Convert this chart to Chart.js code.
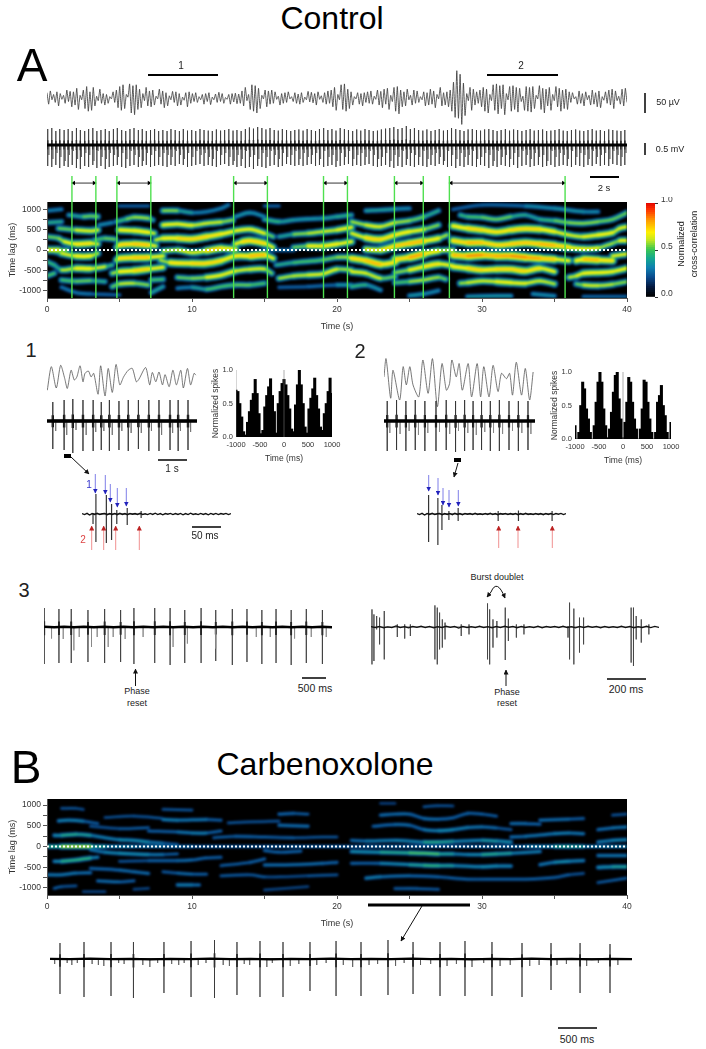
<!DOCTYPE html>
<html>
<head>
<meta charset="utf-8">
<title>Control / Carbenoxolone</title>
<script src="https://cdn.jsdelivr.net/npm/chart.js@4"></script>
<style>
  html, body { margin: 0; background: #fff; }
  #page { position: relative; width: 706px; height: 1049px; overflow: hidden; font-family: "Liberation Sans", Arial, sans-serif; color: #222; }
  #page canvas { position: absolute; display: block; }
  .heat { position: absolute; background: #000; overflow: hidden; }
  .heat canvas { filter: blur(0.9px); }
  .t { position: absolute; transform: translate(-50%, -50%); white-space: nowrap; }
  svg { position: absolute; left: 0; top: 0; pointer-events: none; }
</style>
</head>
<body>
<div id="page"></div>
<script>
// ---- data: everything ----
const lagTicks = [-1000, -750, -500, -250, 0, 250, 500, 750, 1000];
const timeTicks = [0, 5, 10, 15, 20, 25, 30, 35, 40];
const histTicks = [-1000, -500, 0, 500, 1000];
const episodeStarts = [1.72, 4.82, 12.87, 19.07, 23.96, 27.75];
const episodeEnds = [3.37, 7.16, 15.2, 20.72, 25.95, 35.73];

// colour scale of the cross-correlation
const colorStops = [[0,'#000000'],[0.1,'#041a40'],[0.2,'#0a4a8c'],[0.3,'#0f7fb0'],[0.4,'#14a890'],[0.5,'#3cc850'],[0.6,'#c8e81e'],[0.68,'#fff000'],[0.8,'#ffa000'],[0.92,'#ff3000'],[1,'#e00000']];

// correlation ridges: each one is a list of [time s, lag ms, strength]
const ctlUpperLeft = [
  [[0,328,.45],[0.8,287,.5],[1.2,205,.55],[2,147,.7],[3,164,.7],[3.5,147,.5]],
  [[3.3,246,.4],[4,287,.5],[4.7,262,.45]],
  [[4.8,66,.45],[5,123,.65],[6,147,.8],[7,123,.7],[7.5,98,.5]],
  [[7.5,246,.5],[8,287,.65],[9,287,.7],[10,270,.75],[11,328,.7],[12,393,.7],[12.8,450,.6]],
  [[13,147,.55],[13.5,205,.7],[14,229,.75],[15,164,.7],[15.6,66,.5]],
  [[17,66,.35],[18,98,.6],[19,98,.7],[20,147,.65],[21,205,.6]],
  [[0.8,532,.4],[2,491,.55],[3,467,.65],[3.5,491,.55]],
  [[5,491,.6],[6,475,.7],[7,434,.65],[7.4,410,.5]],
  [[8,614,.55],[9,639,.7],[10,606,.55],[11,655,.6],[12,688,.55],[12.8,737,.45]],
  [[13,475,.55],[14,508,.7],[15,410,.55],[15.6,328,.4]],
  [[16,328,.3],[17,385,.45],[18,410,.55],[19,450,.55],[20,491,.6],[21,557,.65]],
  [[1.5,860,.35],[2.5,819,.4],[3,835,.55],[3.5,819,.4]],
  [[3.6,614,.3],[4.5,672,.35]],
  [[4.8,696,.35],[5.5,762,.5],[6,803,.5],[7,778,.55],[7.3,737,.3]],
  [[8,966,.55],[9,966,.45],[10,917,.3],[11,942,.3],[12,1024,.3],[12.5,1106,.3]],
  [[13,819,.35],[14,917,.35],[15,819,.3]],
  [[15,753,.45],[16,696,.4],[17,737,.35],[18,762,.35],[19,778,.35],[20,819,.4],[21,860,.4]],
  [[0,672,.4],[1,696,.4]],
  [[0,966,.3],[1,999,.3]],
  [[15,1081,.2],[16,1081,.2]],
  [[5,1081,.2],[7,1081,.2]],
  [[0,0,.7],[0.8,0,.6],[1.4,0,.4]],
  [[8,-25,.5],[9,0,.6],[10,-66,.6],[11,-20,.6],[12,41,.85],[13,16,.5]],
  [[15,0,.25],[17,0,.3]]
];
const ctlLowerLeft = [
  [[0.5,-41,.4],[1,-82,.5],[2,-147,.7],[3,-147,.65],[3.5,-82,.45]],
  [[4.8,-246,.5],[5,-205,.7],[6,-188,.75],[7,-180,.75],[8,-147,.5]],
  [[7.8,-246,.4],[8.5,-311,.65],[10,-328,.75],[11,-328,.7],[12,-262,.75],[13,-147,.6],[14,-147,.8],[15,-123,.75],[15.6,-205,.5]],
  [[15.8,-369,.35],[17,-311,.45],[19,-246,.45],[20,-180,.5],[21,-180,.55]],
  [[0,-287,.45],[0.5,-369,.4],[1,-491,.4],[2,-450,.7],[3,-459,.65],[4,-410,.5],[4.5,-369,.35]],
  [[4.5,-573,.45],[5,-532,.6],[6,-508,.75],[7,-467,.7],[8,-426,.55]],
  [[9,-672,.5],[10,-696,.45],[11,-672,.55],[12,-622,.7],[13,-516,.55],[14,-475,.6],[15,-467,.6],[15.5,-573,.4]],
  [[16,-696,.5],[17,-639,.55],[18,-614,.55],[19,-590,.65],[20,-475,.55],[21,-491,.5]],
  [[0,-639,.5],[0.5,-573,.4]],
  [[1,-737,.4],[2,-770,.5],[3,-753,.45],[4,-778,.35]],
  [[4.5,-901,.4],[5,-835,.55],[6,-819,.55],[7,-860,.45]],
  [[7.2,-737,.5],[8,-721,.4]],
  [[9,-942,.3],[10,-917,.3],[11,-966,.45],[12,-901,.45],[13,-860,.45],[14,-860,.5],[15,-819,.4]],
  [[16,-917,.25],[18,-901,.2],[20,-860,.3],[21,-860,.4]],
  [[1,-917,.25],[2,-1048,.3],[3,-1081,.25],[5,-1106,.2]],
  [[7.2,-1048,.45],[8,-901,.3]]
];
const ctlUpperRight = [
  [[22,16,.6],[23,0,.7],[24,98,.7],[25,164,.8],[26,221,.75],[27,287,.6],[27.6,369,.45]],
  [[21,410,.5],[22,303,.7],[23,262,.75],[24,369,.65],[25,450,.7],[26,508,.55],[27,614,.45]],
  [[21,696,.45],[22,614,.6],[23,573,.6],[24,672,.55],[25,721,.5],[26,819,.45],[27,966,.35]],
  [[22,966,.35],[23,983,.4],[24,1007,.35],[25,1024,.3]],
  [[28,229,.65],[29,180,.8],[30,180,.75],[31,123,.7],[32,147,.75],[33,180,.75],[34,147,.75],[35,115,.8],[36,66,.65],[37,33,.65],[38,49,.6],[39,164,.45],[39.5,229,.55],[40,229,.7]],
  [[28,590,.6],[29,532,.75],[30,491,.7],[31,442,.7],[32,491,.7],[33,524,.75],[34,508,.7],[35,450,.65],[36,369,.55],[37,328,.6],[38,369,.65],[39,426,.65],[39.5,532,.5],[40,573,.7]],
  [[28.5,860,.4],[29,819,.45],[30,803,.45],[31,753,.5],[32,819,.45],[33,860,.35],[34,753,.4],[35,721,.45],[36,672,.5],[37,655,.5],[38,696,.5],[39,753,.45],[40,917,.5]],
  [[28,999,.25],[30,1106,.2],[33,1081,.3],[35,1024,.35],[37,942,.35],[38,942,.3]]
];
const ctlLowerRight = [
  [[21,-205,.65],[22,-262,.8],[23,-352,.75],[24,-303,.65],[24.3,-246,.5]],
  [[24,-229,.6],[25,-180,.85],[26,-98,.75],[27,-25,.6],[28,0,.5]],
  [[28,-123,.7],[29,-147,.85],[30,-123,.8],[31,-147,.75],[32,-147,.85],[33,-180,.8],[34,-205,.8],[35,-229,.7],[36,-262,.55]],
  [[36.5,-262,.6],[37,-229,.75],[38,-246,.8],[39,-262,.6]],
  [[39,-147,.5],[40,-98,.7]],
  [[21,-532,.55],[22,-573,.65],[23,-696,.5],[24,-655,.45]],
  [[24,-557,.4],[25,-491,.6],[26,-410,.7],[27,-344,.7],[28,-385,.55]],
  [[28,-410,.6],[29,-450,.75],[30,-491,.7],[31,-475,.7],[32,-475,.75],[33,-516,.7],[34,-450,.7],[35,-532,.55]],
  [[36,-672,.5],[36.5,-639,.6],[37,-573,.6],[38,-557,.7],[39,-532,.6],[40,-450,.65]],
  [[21,-901,.45],[22,-860,.4],[23,-983,.3]],
  [[24,-803,.35],[25,-778,.55],[26,-737,.5],[27,-672,.55],[27.5,-721,.4]],
  [[28.5,-819,.45],[29,-803,.6],[30,-762,.55],[31,-778,.6],[32,-803,.7],[33,-819,.55],[34,-762,.6],[35,-835,.5]],
  [[36.5,-835,.4],[37,-860,.55],[38,-876,.6],[39,-844,.5],[40,-778,.5]],
  [[25,-1122,.35],[26,-1081,.35],[27,-999,.3]],
  [[29,-1147,.3],[31,-1130,.4],[32,-1130,.3]],
  [[33.5,-1081,.35],[35,-1130,.3]],
  [[37,-1147,.25],[40,-1147,.25]]
];
const cbxLeft = [
  [[0,0,.5],[1,0,.55],[2,0,.8],[3,0,.55],[4,0,.45],[6,0,.35],[8,0,.35],[10,0,.3],[12,0,.25],[15,0,.25],[17,0,.3],[20,0,.28]],
  [[0.5,268,.4],[1,268,.45],[2,293,.55],[3,268,.4],[4,211,.35],[5,163,.4],[6,146,.45],[7,106,.4],[8,81,.3],[9,49,.2]],
  [[0.8,618,.35],[1.5,634,.42],[2.5,610,.35],[3.5,553,.2]],
  [[1,919,.2],[2,919,.25],[2.5,894,.15]],
  [[3,488,.2],[5,431,.25],[7,455,.25]],
  [[4,699,.15],[6,732,.25],[8,675,.2]],
  [[8,650,.4],[9,634,.35],[11,650,.35],[12,634,.2]],
  [[7,374,.25],[9,350,.3],[10,325,.4],[11,325,.35],[12,374,.2]],
  [[8,894,.2],[10,878,.25]],
  [[12.5,569,.2],[14,593,.25],[16,610,.2]],
  [[16,512,.35],[18,488,.3]],
  [[16,780,.3],[17,797,.3],[18,780,.2]],
  [[11.5,211,.2],[13,244,.3],[15,228,.3],[17,211,.25],[19,228,.2],[20,228,.25]],
  [[3,-81,.3],[4,-138,.4],[5,-163,.4],[6,-179,.45],[7,-195,.4],[8,-195,.3],[9,-179,.2]],
  [[0.5,-358,.35],[1,-358,.45],[2,-325,.6],[3,-276,.45],[3.5,-260,.3]],
  [[5,-358,.2],[7,-341,.25],[9,-341,.35],[10,-325,.3],[11,-276,.3],[12,-260,.25]],
  [[3,-528,.25],[5,-569,.35],[6,-610,.3],[7,-650,.35]],
  [[0,-683,.35],[1,-683,.35],[2,-642,.35],[3,-634,.3]],
  [[3.5,-829,.3],[5,-854,.35],[6,-829,.2]],
  [[9,-927,.35],[10,-927,.4],[10.5,-927,.25]],
  [[0.5,-1008,.25],[1,-967,.25],[2,-951,.2]],
  [[2.5,-1089,.2],[4,-1089,.15]],
  [[6,-1032,.2],[7,-1008,.15]],
  [[8,-610,.2],[9,-642,.3],[10,-667,.35],[11,-667,.2]],
  [[12,-463,.2],[14,-382,.3],[15,-301,.3]],
  [[15,-447,.3],[17,-439,.35],[19,-406,.3],[20,-382,.3]],
  [[15,-98,.25],[16,-138,.35],[17.5,-114,.25]],
  [[12,-707,.2],[14,-683,.3],[15,-732,.2],[16,-732,.2],[18,-707,.2],[20,-683,.25]],
  [[15,-1049,.15],[18,-967,.2]]
];
const cbxRight = [
  [[20,0,.28],[22,0,.3],[26,0,.32],[30,0,.3],[33,0,.35],[35,0,.45],[36,0,.55],[37,0,.4],[40,0,.35]],
  [[21,146,.25],[22,130,.4],[24,146,.35],[26,106,.45],[27,106,.55],[28,122,.4],[30,146,.4],[31,130,.5],[32,106,.35]],
  [[21,-122,.4],[23,-138,.45],[25,-154,.55],[26,-163,.6],[27,-179,.55],[28,-179,.4],[29,-195,.35],[30,-195,.45],[31,-179,.55],[32,-163,.4],[34,-122,.35]],
  [[21,-406,.25],[23,-406,.35],[25,-439,.45],[26,-455,.5],[27,-463,.55],[28,-463,.4],[30,-488,.4],[31,-472,.45],[32,-472,.35]],
  [[34,-439,.3],[35,-382,.4],[36,-358,.45],[37,-341,.3]],
  [[22,-764,.4],[23,-732,.35],[25,-707,.3],[27,-732,.3],[29,-789,.25],[31,-789,.3],[33,-789,.25],[35,-748,.3],[36,-683,.25],[37,-650,.2]],
  [[24,-1016,.25],[25.5,-1016,.3],[27,-1033,.2]],
  [[22.5,488,.25],[24,528,.35],[25,512,.3],[26,406,.3],[27,382,.45],[28,406,.4],[29,455,.35],[30,472,.35],[31,447,.3],[32,406,.2]],
  [[23,756,.3],[24,780,.35],[25,780,.3],[26,675,.3],[27,659,.35],[28,691,.25],[29,797,.3],[30,780,.3],[31,732,.2]],
  [[32,553,.3],[33,553,.35],[34,537,.25]],
  [[34,634,.3],[36,659,.35],[37,675,.2]],
  [[32,228,.3],[33,244,.35],[35,309,.35],[36,325,.4],[37,309,.3]],
  [[38,406,.3],[39,447,.35],[40,472,.35]],
  [[39,756,.2],[40,780,.25]],
  [[38,106,.35],[39,146,.4],[40,163,.4]],
  [[38,-220,.3],[40,-220,.4]],
  [[38,-504,.4],[39,-488,.45],[40,-488,.5]],
  [[38,-870,.2],[40,-764,.3]],
  [[26,959,.2],[27,984,.25],[28,976,.15]],
  [[23,1041,.15],[24,1041,.15]]
];

// top field potential, one extremum after the other, µV
const ctlLfp = [12,-14,16,-4,8,-10,14,-18,10,-3,6,-12,18,-8,15,-20,14,-16,
  22,-26,6,-4,18,-24,26,-30,14,-28,24,-18,4,-6,20,-12,10,-16,
  8,-12,3,-2,14,-10,18,-22,26,-28,30,-24,8,2,32,-34,28,-38,30,-26,20,-22,10,-6,24,-18,16,
  -20,18,-16,4,-2,20,-14,16,-22,12,-18,5,-4,15,-10,14,-18,10,-16,2,-5,12,-20,14,-12,10,-8,
  12,-10,3,-4,8,-14,10,-8,12,-15,2,-4,9,-10,13,-8,10,-12,1,-3,8,-14,10,-9,11,-13,9,
  -12,16,-18,24,-6,8,-26,30,-30,28,-34,22,-24,6,-2,18,-20,16,-14,18,-12,14,-3,4,-16,10,-12,
  12,-10,14,-2,3,-8,12,-12,9,-14,12,-10,2,-4,15,-9,13,-11,10,-16,14,-3,5,-10,12,-14,16,
  -12,18,-20,24,-28,8,-4,30,-26,32,-30,20,-24,14,-16,3,-2,12,-14,10,-18,12,-10,14,-12,
  16,-14,4,-3,18,-16,15,-22,20,-14,22,-26,6,-8,24,-30,26,-36,18,-20,14,-18,20,-4,6,-16,18,
  -12,16,-10,3,-4,14,-18,12,-16,20,-14,16,-22,8,-2,24,-18,12,-16,14,-20,18,-30,36,-44,
  62,-46,54,-60,34,-40,10,-6,24,-28,20,-16,14,-12,18,-20,
  24,-30,20,-34,8,-6,30,-28,32,-36,28,-24,30,-38,10,-4,26,-30,28,-26,24,-32,22,-8,4,-28,26,
  -30,24,-32,26,-24,6,-2,28,-26,22,-34,20,-18,24,-28,8,-6,26,-20,22,-30,18,-24,20,-26,
  14,-10,12,-2,3,-14,16,-12,10,-18,14,-4,6,-16,18,-14,12,-20,16,-22,3,-5,14,-12,18,-16,20,-24,16,-6,4,-14,20,-18,22,-10];

// top spike train, s and mV
const ctlBurstT = [0.05,.33,.61,.88,1.18,1.46,1.74,2.03,2.30,2.60,2.87,3.16,3.44,3.72,4.02,4.29,4.58,4.85,5.15,5.43,5.72,6.00,6.30,6.57,6.85,7.14,7.42,7.70,7.99,8.28,8.55,8.84,9.13,9.40,9.69,9.98,10.26,10.55,10.83,11.12,11.40,11.68,11.97,12.25,12.54,12.83,13.10,13.39,13.68,13.96,14.24,14.53,14.82,15.10,15.38,15.67,15.95,16.23,16.52,16.81,17.09,17.37,17.66,17.94,18.23,18.52,18.79,19.08,19.37,19.65,19.93,20.22,20.51,20.79,21.08,21.36,21.64,21.93,22.21,22.50,22.79,23.06,23.35,23.64,23.92,24.20,24.49,24.78,25.06,25.34,25.63,25.92,26.20,26.48,26.77,27.05,27.34,27.62,27.90,28.19,28.48,28.76,29.04,29.33,29.62,29.90,30.18,30.47,30.76,31.04,31.32,31.61,31.90,32.18,32.46,32.75,33.04,33.32,33.60,33.89,34.18,34.46,34.75,35.03,35.32,35.60,35.88,36.17,36.46,36.74,37.02,37.31,37.60,37.88,38.16,38.45,38.74,39.02,39.31,39.58,39.85];
const ctlBurstUp = [.8,.85,.7,.8,.75,.8,.7,.85,.75,.7,.8,.85,.7,.75,.8,.7,.8,.85,.75,.7,.8,.85,.75,.8,.7,.75,.8,.7,.75,.7,.8,.75,.7,.8,.72,.75,.7,.8,.75,.72,.7,.78,.72,.75,.8,.72,.75,.7,.8,.88,.82,.9,.85,.78,.85,.75,.72,.8,.75,.7,.75,.78,.72,.8,.75,.7,.8,.85,.75,.8,.72,.85,.8,.75,.7,.78,.72,.8,.75,.7,.72,.78,.82,.85,.9,.8,.85,.95,.8,.85,.75,.72,.78,.7,.75,.8,.72,.75,.85,.8,.75,.7,.78,.8,.75,.72,.78,.8,.75,.7,.75,.8,.72,.78,.75,.7,.75,.8,.72,.75,.78,.7,.72,.75,.8,.72,.7,.75,.78,.72,.7,.75,.8,.72,.75,.7,.78,.75,.72,.7,.75];
const ctlBurstDown = [-1.05,-1.1,-1.0,-1.15,-1.05,-1.1,-1.0,-1.15,-1.2,-1.05,-1.1,-1.0,-1.15,-1.05,-1.2,-1.1,-1.05,-1.0,-1.1,-1.15,-1.05,-1.0,-1.1,-1.05,-1.0,-1.1,-1.05,-1.0,-1.05,-1.1,-1.0,-1.05,-.95,-1.0,-1.1,-1.05,-1.0,-.95,-1.05,-1.0,-1.05,-1.1,-1.0,-.95,-1.05,-1.0,-1.1,-1.05,-1.15,-1.1,-1.2,-1.05,-1.1,-1.15,-1.05,-1.0,-1.1,-1.05,-.95,-1.0,-1.05,-1.0,-1.05,-1.0,-.95,-1.05,-1.0,-1.1,-1.05,-1.0,-1.1,-1.05,-1.0,-.95,-1.05,-1.0,-1.05,-1.0,-.95,-1.05,-1.1,-1.05,-1.0,-1.1,-1.15,-1.05,-1.1,-1.0,-1.05,-1.1,-1.0,-1.05,-1.1,-1.0,-1.05,-.95,-1.0,-1.1,-1.05,-1.15,-1.05,-1.1,-1.0,-1.05,-1.1,-1.0,-1.05,-1.15,-1.05,-1.1,-1.0,-1.05,-1.1,-1.0,-1.15,-1.05,-1.0,-1.1,-1.05,-1.0,-1.1,-1.05,-1.0,-1.1,-1.05,-1.0,-1.05,-1.1,-1.0,-1.05,-1.1,-1.0,-1.05,-.95,-1.05,-1.0,-1.05,-.95,-1.0,-1.05,-1.0];
const ctlSecondDown = [-.5,-.7,-.4,-.6,-.8,-.5,-.3,-.7,-.6,-.4,-.5,-.8,-.3,-.6,-.7,-.4,-.5,-.6,-.4,-.7,-.3,-.5,-.6,-.8,-.4,-.5,-.3,-.6,-.4,-.5,-.6,-.3,-.5,-.7,-.4,-.6,-.3,-.5,-.4,-.6,-.7,-.3,-.5,-.4,-.6,-.8,-.5,-.7,-.3,-.6,-.5,-.7,-.4,-.6,-.3,-.5,-.7,-.4,-.6,-.5,-.3,-.7,-.4,-.6,-.5,-.4,-.7,-.3,-.6,-.5,-.8,-.4,-.6,-.3,-.7,-.5,-.4,-.6,-.3,-.5,-.7,-.6,-.4,-.8,-.5,-.6,-.3,-.7,-.4,-.5,-.6,-.3,-.7,-.5,-.4,-.6,-.8,-.3,-.5,-.7,-.4,-.6,-.5,-.3,-.7,-.6,-.4,-.5,-.8,-.3,-.6,-.5,-.7,-.4,-.6,-.3,-.5,-.7,-.4,-.6,-.5,-.8,-.3,-.6,-.4,-.5,-.7,-.3,-.6,-.4,-.5,-.7,-.3,-.6,-.5,-.4,-.7,-.3,-.5,-.6,-.4];

// episode 1 and 2, field potential
const ep1LfpT = [.01,.15,.32,.47,.61,.70,.83,.94,1.03,1.14,1.24,1.31,1.43,1.52,1.61,1.76,1.85,2.00,2.11,2.25,2.38,2.51,2.64,2.80,2.94,3.08,3.17,3.40,3.54,3.63,3.75,3.86,3.98,4.07,4.21,4.34,4.46,4.61,4.70,4.84,4.95,5.07,5.13];
const ep1LfpV = [-23,30,-18,33,3.5,-19,22,0,7,32,-4,15,20,7,15,-32,32,-36,26,-28,35,-11,7,22,26,-4,2,28,-11,17,-4,18,-11,12,-15,22,-11,22,-18,26,-11,15,11];
const ep2LfpT = [0,.07,.23,.31,.54,.66,.77,.89,1.0,1.2,1.34,1.52,1.67,1.84,2.0,2.15,2.26,2.34,2.49,2.59,2.70,2.90,3.02,3.21,3.33,3.44,3.62,3.76,3.93,4.05,4.22,4.33,4.43,4.56,4.74,4.87,5.02,5.14];
const ep2LfpV = [7,48,-41,22,-45,30,-11,30,-11,-38,45,-30,48,-60,37,-23,-8,45,7,37,-23,37,-38,37,-38,30,-38,33,-26,15,3,15,-34,40,-34,26,-45,18];

// episode 1 and 2, spikes
const ep1SpikeT = [.20,.59,.89,1.24,1.59,1.87,2.15,2.48,2.80,3.15,3.51,3.86,4.24,4.52,4.86];
const ep1SpikeUp = [.95,1.05,1.1,1.05,1.05,.95,1.05,1.0,1.05,1.05,1.05,1.05,1.05,1.05,1.05];
const ep1SpikeDown = [-1.4,-1.45,-1.6,-1.5,-1.5,-1.45,-1.5,-1.45,-1.5,-1.4,-1.5,-1.5,-1.45,-1.5,-1.45];
const ep1SecondT = [.30,.68,1.0,1.35,1.68,1.96,2.25,2.58,2.9,3.25,3.6,3.95,4.33,4.6,4.95];
const ep1SecondDown = [-.5,-.7,-.45,-.7,-.55,-.5,-.7,-.5,-.6,-.6,-.5,-.7,-.6,-.5,-.55];
const ep2SpikeT = [.11,.43,.75,1.07,1.40,1.78,2.13,2.45,2.76,3.05,3.34,3.64,3.95,4.28,4.60,4.93];
const ep2SpikeUp = [1.0,1.05,1.0,1.05,1.0,1.0,1.05,1.0,1.05,1.0,1.0,1.0,1.05,1.0,1.0,1.0];
const ep2SpikeDown = [-1.5,-1.45,-1.5,-1.45,-1.5,-1.5,-1.45,-1.55,-1.5,-1.45,-1.45,-1.5,-1.5,-1.45,-1.5,-1.45];
const ep2SecondT = [.2,.55,.86,1.18,1.5,1.9,2.25,2.55,2.87,3.16,3.45,3.75,4.06,4.4,4.72,5.03];
const ep2SecondDown = [-.6,-.65,-.5,-.7,-.6,-.55,-.65,-.5,-.6,-.7,-.55,-.6,-.65,-.5,-.6,-.65];

// normalized spike histograms, 40 ms bins
const histBins = [-1000,-960,-920,-880,-840,-800,-760,-720,-680,-640,-600,-560,-520,-480,-440,-400,-360,-320,-280,-240,-200,-160,-120,-80,-40,0,40,80,120,160,200,240,280,320,360,400,440,480,520,560,600,640,680,720,760,800,840,880,920,960,1000];
const hist1 = [.70,.68,.5,.3,.08,.03,.22,.38,.55,.65,.86,.65,.35,.05,.1,.45,.62,.75,.87,.62,.38,.06,.5,.68,.8,.86,.78,.62,.42,.12,.08,.48,.78,1.0,.78,.5,.15,.06,.42,.58,.72,.88,.62,.42,.15,.1,.35,.5,.68,.88,.65];
const hist2 = [.2,0,.1,.5,.85,.75,.45,.3,.1,0,.2,.55,.85,1.0,.85,.45,.2,.02,.15,.4,.7,.95,1.0,.6,.3,.02,.25,.55,.92,.85,.55,.3,.15,0,.15,.45,.88,.85,.55,.3,.1,0,.1,.55,.65,.8,.5,.35,.1,0,.25];

// zoomed bursts, ms and mV
const zoom1SpikeT = [19,24,42,51,60,78,102];
const zoom1SpikeUp = [.05,1.0,.95,.5,.2,.3,.15];
const zoom1SpikeDown = [-.5,-1.4,-1.45,-1.3,-.5,-.55,-.2];
const zoom2SpikeT = [20,36,43,55,71,140,175,233];
const zoom2SpikeUp = [.95,.8,.45,.15,.3,.15,.17,.15];
const zoom2SpikeDown = [-1.4,-1.65,-.8,-.3,-.35,-.35,-.35,-.35];
const zoomNoise = [.02,-.03,.03,-.05,.02,-.02,.04,-.03,.01,.03,-.04,.02,-.02,.03,-.03,.04,-.02,.02,-.04,.03,-.01,.02,-.03,.04,-.02,.01,-.03,.03,-.02,.04,-.03,.02,-.04,.02,-.01,.03,-.03,.02,-.02,.03,-.04,.02,-.03,.04,-.02,.01,-.03,.03,-.02,.02,-.04,.03,-.02,.03,-.03,.02,-.01,.03,-.03,.02];

// panel 3 left, ms and mV
const p3BurstT = [0,306,562,910,1257,1590,1867,2300,2620,2925,3265,3570,3915,4220,4530,4825,5140,5455,5790];
const p3BurstUp = [.95,.9,.9,.85,.9,.85,.95,.95,.95,.85,.95,.85,.9,.9,.85,.9,.85,.9,.85];
const p3BurstDown = [-1.85,-1.8,-1.8,-1.75,-1.8,-1.75,-1.85,-1.8,-1.9,-1.8,-1.8,-1.7,-1.9,-1.75,-1.85,-1.8,-1.9,-1.8,-1.85];
const p3SecondT = [152,395,617,728,984,1102,1331,1435,1684,2058,2682,2980,3569,4414,4705,5211,5558,5870];
const p3SecondDown = [-.58,-.6,-1.17,-.5,-1,-.5,-1,-.5,-.6,-.5,-1,-.83,-1.08,-.5,-.5,-.58,-.5,-.5];
const p3Noise = [.01,-.01,.015,-.01,.01,-.015,.01,-.01,.015,-.01,.01,-.015,.01,-.01,.015,-.01,.01,-.015,.01,-.01,.015,-.01,.01,-.015,.01,-.01,.015,-.01,.01,-.01];

// panel 3 right, ms and mV
const p3bSpikeT = [5,15,29,44,68,135,173,202,328,340,352,366,380,463,503,598,609,626,646,689,705,746,785,1011,1019,1041,1070,1091,1335,1347,1361,1387,1426];
const p3bSpikeUp = [.88,.63,.55,.47,.8,.13,.13,.13,1.08,.97,.72,.38,.22,.13,.13,1.18,.88,.38,.3,.97,.42,.13,.13,.05,1.22,.92,.47,.47,.97,.97,.55,.38,.13];
const p3bSpikeDown = [-1.87,-1.7,-.12,-.87,-1.62,-.5,-.58,-.45,-1.62,-1.87,-1.12,-1.03,-.62,-.45,-.37,-1.62,-1.87,-1.03,-.53,-1.65,-.7,-.53,-.37,-.53,-1.62,-1.87,-1.28,-.87,-1.78,-1.95,-.62,-.78,-.37];
const p3bNoise = [.02,-.03,.03,-.04,.01,-.03,.05,-.03,.02,-.04,.03,-.02,.04,-.03,.03,-.04,.02,-.03,.04,-.02,.03,-.05,.03,-.03,.02,-.03,.04,-.03,.02,-.04,.03,-.03,.04,-.02,.03,-.04,.03,-.03,.02,-.03,.04,-.04,.03,-.02,.03,-.03,.04,-.03,.02,-.04,.03,-.03,.04,-.02,.03,-.04,.03,-.03,.02,-.03,.04,-.03,.03,-.04,.02,-.03,.04,-.03,.03,-.02];

// Carbenoxolone spike train, ms and mV
const cbxBurstT = [128,436,782,1070,1461,1808,2109,2397,2692,2987,3333,3667,3987,4333,4654,5000,5320,5666,6051,6423,6795,7179];
const cbxBurstUp = [.8,.85,.85,.85,.85,.9,.95,.85,.9,.85,.85,.9,.85,.95,.85,.85,.9,.85,.8,.8,.8,.75];
const cbxBurstDown = [-1.75,-1.9,-1.85,-1.95,-1.7,-1.9,-1.95,-1.8,-1.9,-1.9,-1.6,-1.85,-1.85,-1.8,-1.75,-1.85,-1.85,-1.85,-1.9,-1.55,-1.7,-1.7];
const cbxSmallT = [60,220,280,350,540,620,690,880,950,1190,1280,1380,1560,1650,1720,1900,2000,2220,2300,2490,2560,2780,2850,3080,3190,3420,3540,3760,3880,4090,4200,4430,4540,4750,4880,5090,5210,5410,5560,5770,5900,6150,6270,6500,6620,6880,7030,7280];
const cbxSmallDown = [-.25,-.2,-.3,-.2,-.25,-.3,-.35,-.2,-.25,-.3,-.4,-.2,-.25,-.3,-.2,-.3,-.2,-.3,-.35,-.25,-.3,-.4,-.2,-.35,-.25,-.3,-.2,-.3,-.4,-.3,-.25,-.35,-.2,-.3,-.25,-.35,-.25,-.4,-.2,-.35,-.3,-.35,-.3,-.3,-.25,-.35,-.2,-.3];
const cbxNoise = [.01,-.01,.015,-.01,.01,-.015,.01,-.01,.015,-.01,.01,-.015,.01,-.01,.015,-.01,.01,-.01,.015,-.01,.01,-.015,.01,-.01,.015,-.01,.01,-.015,.01,-.01];

// ---- drawing ----
const FONT = '"Liberation Sans", Arial, sans-serif';
const page = document.getElementById('page');
Chart.defaults.animation = false;
Chart.defaults.responsive = false;
Chart.defaults.font.family = FONT;
Chart.defaults.color = '#333';
Chart.defaults.layout.autoPadding = false;
Chart.defaults.plugins.legend.display = false;
Chart.defaults.plugins.tooltip.enabled = false;
Chart.defaults.elements.point.radius = 0;

function canvasAt(left, top, w, h, parent) {
  const c = document.createElement('canvas');
  c.width = w; c.height = h;
  c.style.left = left + 'px'; c.style.top = top + 'px';
  (parent || page).appendChild(c);
  return c;
}

function line(points, color, width, extra) {
  return Object.assign({ type: 'line', data: points, borderColor: color, borderWidth: width, pointRadius: 0, fill: false }, extra || {});
}

// a spike is drawn as a vertical stroke from its top to its bottom
function spikes(times, ups, downs) {
  const pts = [];
  times.forEach((t, i) => {
    pts.push({ x: t, y: 0 }, { x: t, y: ups ? ups[i] : 0 }, { x: t, y: downs[i] }, { x: t, y: 0 });
  });
  return pts;
}

// the thick foot of each spike, close to the baseline
function feet(times, ups, downs) {
  return spikes(times, ups.map(v => v * 0.3), downs.map(v => v * 0.22));
}

function evenly(values, from, to) {
  return values.map((v, i) => ({ x: from + (to - from) * i / (values.length - 1), y: v }));
}

function pairs(xs, ys) { return xs.map((x, i) => ({ x, y: ys[i] })); }

function traceChart(left, top, w, h, xMin, xMax, yMin, yMax, datasets) {
  return new Chart(canvasAt(left, top, w, h), {
    type: 'line',
    data: { datasets },
    options: {
      layout: { padding: 0 },
      scales: {
        x: { type: 'linear', display: false, min: xMin, max: xMax },
        y: { type: 'linear', display: false, min: yMin, max: yMax }
      }
    }
  });
}

function pinAxis(size) {
  return s => {
    if (s.isHorizontal()) s.height = size; else s.width = size;
    s.paddingLeft = s.paddingRight = s.paddingTop = s.paddingBottom = 0;
  };
}

function stopColor(v) {
  let i = 1;
  while (i < colorStops.length - 1 && colorStops[i][0] < v) i++;
  const [a, ca] = colorStops[i - 1], [b, cb] = colorStops[i];
  const f = Math.min(1, Math.max(0, (v - a) / (b - a)));
  const rgb = c => [1, 3, 5].map(k => parseInt(c.substr(k, 2), 16));
  const A = rgb(ca), B = rgb(cb);
  return 'rgb(' + A.map((n, k) => Math.round(n + (B[k] - n) * f)).join(',') + ')';
}

// heat map ridges: each ridge is stacked from dim and wide to hot and narrow
const heatLayers = [
  { color: '#062a5c', width: s => 2.5 + s * 10 },
  { color: '#0b5f9e', width: s => (s - .08) * 16 },
  { color: '#12969e', width: s => (s - .24) * 16 },
  { color: '#3cc850', width: s => (s - .34) * 16 },
  { color: '#f0ee10', width: s => (s - .44) * 16 },
  { color: '#ff8c00', width: s => (s - .68) * 14 },
  { color: '#e02000', width: s => (s - .79) * 14 }
];

function heatChart(left, top, w, h, yMin, yMax, ridges, gain, thin) {
  const box = document.createElement('div');
  box.className = 'heat';
  box.style.cssText = 'left:' + left + 'px;top:' + top + 'px;width:' + w + 'px;height:' + h + 'px';
  page.appendChild(box);
  const datasets = [];
  heatLayers.forEach((layer, n) => {
    ridges.forEach(ridge => {
      const strength = c => gain * (ridge[c.p0DataIndex][2] + ridge[c.p1DataIndex][2]) / 2;
      datasets.push(line(ridge.map(r => ({ x: r[0], y: r[1] })), layer.color, 1, {
        order: heatLayers.length - n,
        tension: 0.35,
        borderCapStyle: 'round',
        segment: {
          borderWidth: c => Math.max(0.01, thin * layer.width(strength(c))),
          borderColor: c => layer.width(strength(c)) > 0 ? layer.color : 'rgba(0,0,0,0)'
        }
      }));
    });
  });
  new Chart(canvasAt(0, 0, w, h, box), {
    type: 'line',
    data: { datasets },
    options: {
      layout: { padding: 0 },
      scales: {
        x: { type: 'linear', display: false, min: 0, max: 40 },
        y: { type: 'linear', display: false, min: yMin, max: yMax }
      }
    }
  });
}

// axes and the dotted zero-lag line sit on a second, unblurred chart
function heatAxes(top, yMin, yMax, plotH) {
  new Chart(canvasAt(7, top - 6, 633, plotH + 6 + 34), {
    type: 'line',
    data: { datasets: [line([{ x: 0, y: 0 }, { x: 40, y: 0 }], '#fff', 2, { borderDash: [2, 2] })] },
    options: {
      layout: { padding: { left: 0, right: 13, top: 6, bottom: 0 } },
      scales: {
        x: {
          type: 'linear', min: 0, max: 40,
          afterBuildTicks: s => { s.ticks = timeTicks.map(value => ({ value })); },
          afterFit: pinAxis(34),
          grid: { drawOnChartArea: false, color: '#555', tickLength: 4 },
          border: { color: '#555' },
          ticks: { maxRotation: 0, autoSkip: false, font: { size: 8.5 }, padding: 3, callback: v => v % 10 === 0 ? String(v) : '' },
          title: { display: true, text: 'Time (s)', font: { size: 9 }, padding: { top: 2, bottom: 0 } }
        },
        y: {
          type: 'linear', min: yMin, max: yMax,
          afterBuildTicks: s => { s.ticks = lagTicks.map(value => ({ value })); },
          afterFit: pinAxis(40),
          grid: { drawOnChartArea: false, color: '#555', tickLength: 4 },
          border: { color: '#555' },
          ticks: { autoSkip: false, font: { size: 8.5 }, padding: 2, callback: v => v % 500 === 0 ? String(v) : '' },
          title: { display: true, text: 'Time lag (ms)', font: { size: 9 }, padding: { top: 0, bottom: 0 } }
        }
      }
    }
  });
}

function histChart(left, top, values, peakLine) {
  new Chart(canvasAt(left, top - 6, 133, 100), {
    type: 'bar',
    data: {
      datasets: [
        line(peakLine, '#777', 0.6),
        { type: 'bar', data: pairs(histBins, values), backgroundColor: '#000', barThickness: 2.4 }
      ]
    },
    options: {
      layout: { padding: { right: 12, top: 6 } },
      scales: {
        x: {
          type: 'linear', min: -1000, max: 1000, offset: false,
          afterBuildTicks: s => { s.ticks = histTicks.map(value => ({ value })); },
          afterFit: pinAxis(27),
          grid: { display: false, drawTicks: false, offset: false }, border: { display: false },
          ticks: { maxRotation: 0, autoSkip: false, font: { size: 7.5 }, padding: 3, callback: v => String(v) },
          title: { display: true, text: 'Time (ms)', font: { size: 8.5 }, padding: 0 }
        },
        y: {
          type: 'linear', min: 0, max: 1,
          afterBuildTicks: s => { s.ticks = [0, .5, 1].map(value => ({ value })); },
          afterFit: pinAxis(25),
          grid: { display: false, drawTicks: false }, border: { display: false },
          ticks: { font: { size: 7.5 }, padding: 3, callback: v => v.toFixed(1) },
          title: { display: true, text: 'Normalized spikes', font: { size: 8.5 }, padding: 0 }
        }
      }
    }
  });
}

// Control: long traces
traceChart(47, 70, 580, 56, 0, 40, -63.6, 63.6, [
  line(evenly(ctlLfp, 0, 40), '#333', 0.8, { tension: 0.12 })
]);
traceChart(47, 120, 580, 50, 0, 40, -1.25, 1.25, [
  line([{ x: 0, y: 0 }, { x: 40, y: 0 }], '#000', 3),
  line(spikes(ctlBurstT.map(t => t + 0.08), null, ctlSecondDown), '#555', 0.7),
  line(spikes(ctlBurstT, ctlBurstUp, ctlBurstDown), '#333', 0.8),
  line(feet(ctlBurstT, ctlBurstUp, ctlBurstDown), '#000', 1.4)
]);

// Control: correlogram
heatChart(47, 202, 580, 96, -1180, 1180, [...ctlUpperLeft, ...ctlLowerLeft, ...ctlUpperRight, ...ctlLowerRight], 1, 1);
heatAxes(202, -1180, 1180, 96);

// green episode markers with their arrows
const episodeSets = [];
episodeStarts.forEach((start, i) => {
  const end = episodeEnds[i];
  episodeSets.push(line([{ x: start, y: 0 }, { x: start, y: 1 }], '#4fe04f', 1.4));
  episodeSets.push(line([{ x: end, y: 0 }, { x: end, y: 1 }], '#4fe04f', 1.4));
  episodeSets.push(line([{ x: start + 0.12, y: 0.942 }, { x: end - 0.12, y: 0.942 }], '#000', 0.8, {
    pointStyle: 'triangle', pointRadius: 2.6, pointBackgroundColor: '#000', pointBorderWidth: 0, pointRotation: [-90, 90]
  }));
});
traceChart(47, 176, 580, 122, 0, 40, 0, 1, episodeSets);

// colour bar
const barLevels = Array.from({ length: 48 }, (_, i) => i);
new Chart(canvasAt(640, 197, 40, 106), {
  type: 'bar',
  data: {
    labels: ['c'],
    datasets: barLevels.map(i => ({
      data: [[i / barLevels.length, (i + 1.3) / barLevels.length]],
      backgroundColor: stopColor((i + 0.5) / barLevels.length),
      barPercentage: 1, categoryPercentage: 1, grouped: false
    }))
  },
  options: {
    layout: { padding: { left: 6, top: 6, bottom: 6 } },
    scales: {
      x: { display: false },
      y: {
        position: 'right', min: 0, max: 1,
        afterBuildTicks: s => { s.ticks = [0, .5, 1].map(value => ({ value })); },
        afterFit: pinAxis(25),
        grid: { drawOnChartArea: false, color: '#333', tickLength: 3 },
        border: { display: false },
        ticks: { labelOffset: -3, font: { size: 8.5 }, padding: 3, callback: v => v.toFixed(1) }
      }
    }
  }
});

// episode panels
traceChart(47, 350, 150, 60, 0, 5.17, -67.5, 67.5, [line(pairs(ep1LfpT, ep1LfpV), '#555', 0.8, { tension: 0.25 })]);
traceChart(47, 395, 150, 62, 0, 5.17, -1.8, 1.3, [
  line([{ x: 0, y: 0 }, { x: 5.17, y: 0 }], '#000', 3.5),
  line(spikes(ep1SecondT, null, ep1SecondDown), '#777', 1),
  line(spikes(ep1SpikeT, ep1SpikeUp, ep1SpikeDown), '#333', 0.9),
  line(feet(ep1SpikeT, ep1SpikeUp, ep1SpikeDown), '#000', 2.4)
]);
histChart(211, 370, hist1, [{ x: -1000, y: 0 }, { x: -1000, y: 1 }, { x: null, y: null }, { x: 0, y: 0 }, { x: 0, y: 1 }]);
traceChart(384, 350, 150, 60, 0, 5.17, -67.5, 67.5, [line(pairs(ep2LfpT, ep2LfpV), '#555', 0.8, { tension: 0.25 })]);
traceChart(384, 395, 151, 62, 0, 5.17, -1.8, 1.3, [
  line([{ x: 0, y: 0 }, { x: 5.17, y: 0 }], '#000', 3.5),
  line(spikes(ep2SecondT, null, ep2SecondDown), '#888', 1),
  line(spikes(ep2SpikeT, ep2SpikeUp, ep2SpikeDown), '#333', 0.9),
  line(feet(ep2SpikeT, ep2SpikeUp, ep2SpikeDown), '#000', 2.2)
]);
histChart(550, 371.5, hist2, [{ x: 0, y: 0 }, { x: 0, y: 1 }]);

// zoomed bursts
traceChart(82, 490, 149, 55, 0, 257, -1.55, 1.2, [
  line(evenly(zoomNoise, 0, 257), '#111', 1.4),
  line(spikes(zoom1SpikeT, zoom1SpikeUp, zoom1SpikeDown), '#333', 1.2)
]);
traceChart(417, 490, 149, 55, 0, 257, -1.55, 1.2, [
  line(evenly(zoomNoise, 0, 257), '#111', 1.4),
  line(spikes(zoom2SpikeT, zoom2SpikeUp, zoom2SpikeDown), '#333', 1.2)
]);

// panel 3
traceChart(44, 600, 288, 70, -5, 5990, -2.15, 1.35, [
  line(evenly(p3Noise, 0, 5990), '#000', 2.4),
  line(spikes(p3SecondT, null, p3SecondDown), '#888', 0.9),
  line(spikes(p3BurstT, p3BurstUp, p3BurstDown), '#333', 0.8),
  line(feet(p3BurstT, p3BurstUp, p3BurstDown), '#000', 1.8)
]);
traceChart(371, 600, 288, 70, 0, 1478, -2.15, 1.35, [
  line(evenly(p3bNoise, 0, 1478), '#111', 1.2),
  line(spikes(p3bSpikeT, p3bSpikeUp, p3bSpikeDown), '#444', 0.9)
]);

// Carbenoxolone
heatChart(47, 799, 580, 96, -1170, 1145, [...cbxLeft, ...cbxRight], 0.8, 0.85);
heatAxes(799, -1170, 1145, 96);
traceChart(50, 935, 582, 68, 0, 7461, -2.2, 1.2, [
  line(evenly(cbxNoise, 0, 7461), '#000', 2.2),
  line(spikes(cbxSmallT, null, cbxSmallDown), '#555', 0.8),
  line(spikes(cbxBurstT, cbxBurstUp, cbxBurstDown), '#333', 0.8),
  line(feet(cbxBurstT, cbxBurstUp, cbxBurstDown), '#000', 1.6)
]);

// ---- text ----
function label(x, y, text, size, color) {
  const d = document.createElement('div');
  d.className = 't';
  d.textContent = text;
  d.style.cssText = 'left:' + x + 'px;top:' + y + 'px;font-size:' + size + 'px;' + (color ? 'color:' + color : '');
  page.appendChild(d);
  return d;
}
label(332, 18, 'Control', 32, '#000');
label(32, 65, 'A', 46, '#000');
label(181, 65, '1', 10);
label(521, 65, '2', 10);
label(668, 102, '50 µV', 9);
label(670, 149, '0.5 mV', 9);
label(604, 187, '2 s', 9.5);
label(681, 244, 'Normalized', 9).style.transform = 'translate(-50%,-50%) rotate(-90deg)';
label(694, 244, 'cross-correlation', 9).style.transform = 'translate(-50%,-50%) rotate(-90deg)';
label(31, 350, '1', 20);
label(360, 351, '2', 20);
label(172, 468, '1 s', 10);
label(205, 535, '50 ms', 10);
label(89, 484, '1', 10, '#3333cc');
label(83, 539, '2', 10, '#dd4444');
label(24, 590, '3', 20);
label(137, 691, 'Phase', 9);
label(137, 703, 'reset', 9);
label(315, 688, '500 ms', 10.5);
label(497, 577, 'Burst doublet', 9);
label(507, 692, 'Phase', 9);
label(507, 703, 'reset', 9);
label(626, 689, '200 ms', 10.5);
label(26, 767, 'B', 46, '#000');
label(325, 764, 'Carbenoxolone', 32, '#000');
label(577, 1039, '500 ms', 10.5);

// ---- scale bars and arrows ----
const bars = [
  [148, 75, 218, 75, 2], [487, 75, 558, 75, 2], [645, 93, 645, 113, 1.5], [645, 143, 645, 155, 1.5], [590, 177, 619, 177, 2],
  [158, 460, 187, 460, 1.5], [192, 527, 221, 527, 1.5], [302, 678, 326, 678, 1.5], [607, 679, 646, 679, 1.5],
  [368, 905, 470, 905, 3], [558, 1028, 597, 1028, 1.5], [64, 456, 71, 456, 4], [454, 460, 461, 460, 4]
];
const arrows = [
  [71, 457, 89, 474, 'k'], [458, 463, 454, 477, 'k'], [422, 906, 401, 941, 'k'],
  [135.5, 686, 135.5, 669, 'k'], [506, 686, 506, 670, 'k'],
  [95.3, 474, 95.3, 493, 'b'], [105.3, 475, 105.3, 494, 'b'], [110.3, 484, 110.3, 502, 'b'], [117.3, 488, 117.3, 507, 'b'], [126.3, 488, 126.3, 506, 'b'],
  [91.7, 550, 91.7, 526, 'r'], [103.7, 550, 103.7, 526, 'r'], [115.7, 550, 115.7, 526, 'r'], [139.3, 550, 139.3, 526, 'r'],
  [428.7, 475, 428.7, 491, 'b'], [438, 478, 438, 495, 'b'], [443, 488, 443, 505, 'b'], [449, 490, 449, 507, 'b'], [458.3, 490, 458.3, 506, 'b'],
  [498.7, 548, 498.7, 526, 'r'], [518, 548, 518, 526, 'r'], [552.3, 548, 552.3, 526, 'r']
];
const arrowColors = { k: '#111', b: '#7f7fe8', r: '#f09090' };
const headColors = { k: '#111', b: '#2222bb', r: '#bb2222' };
let svg = '<svg width="706" height="1049" xmlns="http://www.w3.org/2000/svg"><defs>';
Object.keys(headColors).forEach(k => {
  svg += '<marker id="h' + k + '" markerUnits="userSpaceOnUse" markerWidth="5" markerHeight="5" refX="4.5" refY="2.5" orient="auto"><path d="M0 0L5 2.5L0 5z" fill="' + headColors[k] + '"/></marker>';
});
svg += '</defs>';
bars.forEach(b => { svg += '<line x1="' + b[0] + '" y1="' + b[1] + '" x2="' + b[2] + '" y2="' + b[3] + '" stroke="#000" stroke-width="' + b[4] + '"/>'; });
arrows.forEach(a => { svg += '<line x1="' + a[0] + '" y1="' + a[1] + '" x2="' + a[2] + '" y2="' + a[3] + '" stroke="' + arrowColors[a[4]] + '" stroke-width="1" marker-end="url(#h' + a[4] + ')"/>'; });
svg += '<path d="M491 592Q497 578 505 598" fill="none" stroke="#111" stroke-width="1" marker-end="url(#hk)"/>';
svg += '<path d="M491 592L487 597" stroke="#111" stroke-width="1" marker-end="url(#hk)"/>';
svg += '</svg>';
page.insertAdjacentHTML('beforeend', svg);
</script>
</body>
</html>
